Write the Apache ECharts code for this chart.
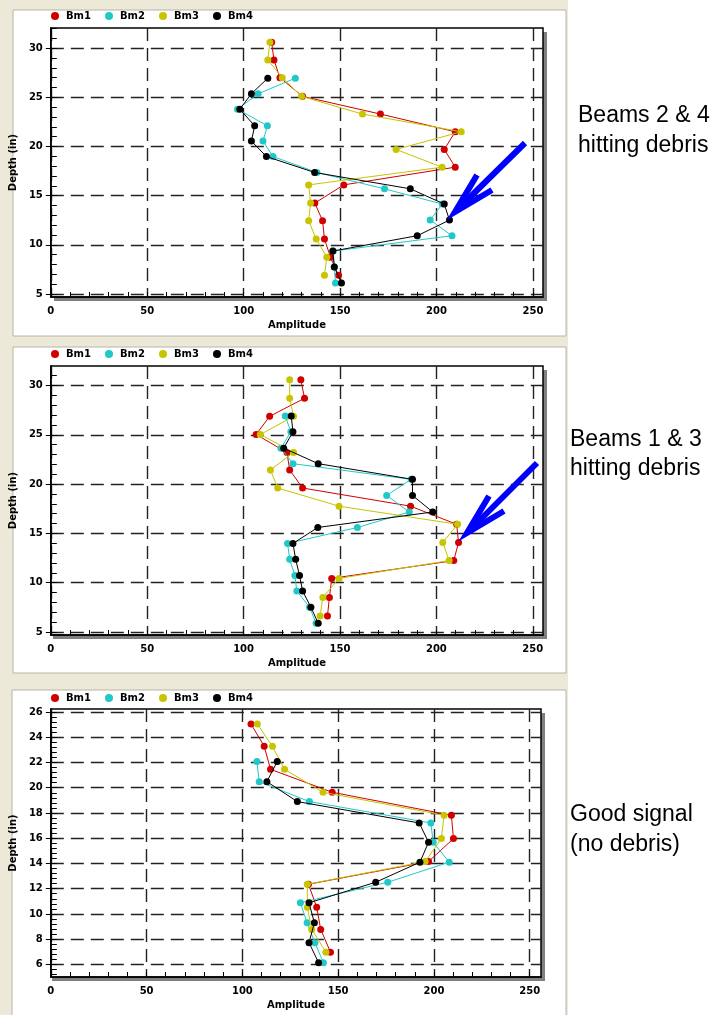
<!DOCTYPE html>
<html><head><meta charset="utf-8">
<script src="https://cdn.jsdelivr.net/npm/echarts@6/dist/echarts.min.js"></script>
<style>html,body{margin:0;padding:0;background:#fff}#c{width:726px;height:1015px}</style>
</head><body><div id="c"></div>
<script>
// ---------- data ----------
const seriesNames = ['Bm1', 'Bm2', 'Bm3', 'Bm4'];
const xTickLabels = [0, 50, 100, 150, 200, 250];
const yTickLabels12 = [5, 10, 15, 20, 25, 30];
const yTickLabels3 = [6, 8, 10, 12, 14, 16, 18, 20, 22, 24, 26];

// Panel 1 (Beams 2 & 4 hitting debris)
const p1DepthA = [30.6, 28.8, 27.0, 25.1, 23.3, 21.5, 19.7, 17.9, 16.1, 14.25, 12.45, 10.6, 8.75, 6.9];
const p1DepthB = [26.95, 25.36, 23.8, 22.1, 20.55, 18.98, 17.36, 15.7, 14.15, 12.52, 10.93, 9.37, 7.74, 6.12];
const p1Bm1 = [114.5, 115.7, 118.8, 130.5, 170.9, 209.7, 204, 209.7, 151.9, 136.9, 140.9, 141.9, 145, 149.2];
const p1Bm2 = [126.8, 107.5, 96.8, 112.3, 110, 115.2, 138, 173, 203, 196.7, 208, 146.5, 147, 147.6];
const p1Bm3 = [113.6, 112.5, 120, 130, 161.6, 212.8, 179, 202.9, 133.7, 134.7, 133.7, 137.6, 143.1, 141.9];
const p1Bm4 = [112.5, 104, 98, 105.7, 104, 111.8, 136.8, 186.4, 204, 206.7, 190, 146.2, 147, 150.7];

// Panel 2 (Beams 1 & 3 hitting debris)
const p2DepthA = [30.58, 28.7, 26.87, 25.03, 23.2, 21.43, 19.6, 17.76, 15.92, 14.08, 12.24, 10.44, 8.5, 6.63];
const p2DepthB = [26.9, 25.3, 23.64, 22.07, 20.48, 18.85, 17.17, 15.6, 13.98, 12.38, 10.74, 9.15, 7.52, 5.89];
const p2Bm1 = [129.7, 131.6, 113.5, 106.5, 122.5, 123.9, 130.6, 186.6, 210.5, 211.5, 209, 145.7, 144.5, 143.5];
const p2Bm2 = [121.6, 124.5, 119.4, 125.6, 186.9, 174.2, 185.9, 159, 122.8, 123.9, 126.6, 127.6, 134.2, 137.6];
const p2Bm3 = [123.9, 123.9, 125.9, 108.7, 125.9, 113.9, 117.7, 149.5, 211, 203.3, 206.6, 149.5, 141.1, 139.7];
const p2Bm4 = [124.7, 125.6, 120.8, 138.7, 187.6, 187.6, 198.1, 138.5, 125.6, 127, 129, 130.6, 134.9, 138.7];

// Panel 3 (Good signal)
const p3DepthA = [25.05, 23.28, 21.46, 19.64, 17.82, 15.97, 14.15, 12.35, 10.53, 8.77, 6.97];
const p3DepthB = [22.07, 20.48, 18.9, 17.21, 15.68, 14.1, 12.51, 10.88, 9.3, 7.72, 6.13];
const p3Bm1 = [104.5, 111.4, 114.7, 146.9, 209.1, 210.2, 197.2, 134.5, 138.8, 140.9, 146];
const p3Bm2 = [107.6, 108.8, 135, 198.4, 199.6, 208, 175.9, 130.3, 133.8, 137.9, 142.3];
const p3Bm3 = [107.8, 115.7, 122, 142.1, 205.3, 203.9, 195.4, 133.9, 133.9, 136.2, 143.6];
const p3Bm4 = [118.2, 112.8, 128.7, 192.3, 197.2, 192.7, 169.6, 134.8, 137.6, 134.8, 139.8];

const annotations = [['Beams 2 & 4', 'hitting debris'], ['Beams 1 & 3', 'hitting debris'], ['Good signal', '(no debris)']];

// ---------- layout / style ----------
const colors = ['#d00000', '#22c8c8', '#c8c400', '#000000'];
const FONT = 'DejaVu Sans';
const grids = [
  {left: 50, top: 28, width: 493, height: 269},
  {left: 49, top: 366, width: 494, height: 269},
  {left: 48, top: 709, width: 493, height: 268}
];
const xMax = [255.2, 255.3, 255.9];
const yRange = [[4.7, 32.05], [4.7, 31.97], [5, 26.24]];
const legendTop = [11, 349, 693];

function range(a, b, s) { const r = []; for (let v = a; v <= b + 1e-9; v += s) r.push(+v.toFixed(3)); return r; }
const minorX = range(0, 250, 10);
const minorY12 = range(5, 32, 1);
const minorY3 = range(5.2, 26, 0.4);

const panels = [
  {A: p1DepthA, B: p1DepthB, s: [p1Bm1, p1Bm2, p1Bm3, p1Bm4]},
  {A: p2DepthA, B: p2DepthB, s: [p2Bm1, p2Bm2, p2Bm3, p2Bm4]},
  {A: p3DepthA, B: p3DepthB, s: [p3Bm1, p3Bm2, p3Bm3, p3Bm4]}
];

const split = {show: true, lineStyle: {color: '#222', width: 1.4, type: [13, 7]}};
const lbl = {color: '#000', fontFamily: FONT, fontWeight: 'bold', fontSize: 10};
const xAxis = [], yAxis = [], series = [], legend = [];
grids.forEach((g, i) => {
  const yt = i < 2 ? yTickLabels12 : yTickLabels3;
  const ym = i < 2 ? minorY12 : minorY3;
  xAxis.push({
    type: 'value', gridIndex: i, min: 0, max: xMax[i], position: 'bottom',
    name: 'Amplitude', nameLocation: 'middle', nameGap: 23,
    nameTextStyle: {color: '#000', fontFamily: FONT, fontWeight: 'bold', fontSize: 10},
    axisLine: {show: true, lineStyle: {color: '#000', width: 1.5}},
    axisTick: {show: false, customValues: xTickLabels},
    axisLabel: Object.assign({customValues: xTickLabels, margin: 9}, lbl),
    splitLine: split
  });
  xAxis.push({
    type: 'value', gridIndex: i, min: 0, max: xMax[i], position: 'bottom',
    axisLine: {show: false}, axisLabel: {show: false}, splitLine: {show: false},
    axisTick: {show: true, inside: true, length: 5, customValues: minorX, lineStyle: {color: '#000', width: 1}}
  });
  yAxis.push({
    type: 'value', gridIndex: i, min: yRange[i][0], max: yRange[i][1], position: 'left',
    name: 'Depth (in)', nameLocation: 'middle', nameGap: 26,
    nameTextStyle: {color: '#000', fontFamily: FONT, fontWeight: 'bold', fontSize: 10},
    axisLine: {show: true, lineStyle: {color: '#000', width: 1.5}},
    axisTick: {show: true, inside: false, length: 5, customValues: yt, lineStyle: {color: '#000', width: 1}},
    axisLabel: Object.assign({customValues: yt, margin: 8}, lbl),
    splitLine: split
  });
  yAxis.push({
    type: 'value', gridIndex: i, min: yRange[i][0], max: yRange[i][1], position: 'left',
    axisLine: {show: false}, axisLabel: {show: false}, splitLine: {show: false},
    axisTick: {show: true, inside: true, length: 6, customValues: ym, lineStyle: {color: '#000', width: 1}}
  });
  const p = panels[i];
  p.s.forEach((vals, k) => {
    const depths = (k === 0 || k === 2) ? p.A : p.B;
    series.push({
      name: seriesNames[k], type: 'line', xAxisIndex: 2 * i, yAxisIndex: 2 * i,
      data: vals.map((v, j) => [v, depths[j]]),
      symbol: 'circle', symbolSize: 7, showSymbol: true,
      itemStyle: {color: colors[k]}, lineStyle: {color: colors[k], width: 1},
      emphasis: {disabled: true}, z: 3 + k
    });
  });
  legend.push({
    data: seriesNames, left: 51, top: legendTop[i], icon: 'circle',
    itemWidth: 12, itemHeight: 8, itemGap: 14, padding: 0,
    textStyle: {color: '#000', fontFamily: FONT, fontWeight: 'bold', fontSize: 10}
  });
});

const beige = '#ece9d8';
const graphic = [
  {type: 'rect', shape: {x: 0, y: 0, width: 568, height: 1015}, style: {fill: beige}, z: -20},
  {type: 'rect', shape: {x: 13, y: 10, width: 553, height: 326}, style: {fill: '#fff', stroke: '#b8b4a4', lineWidth: 1}, z: -15},
  {type: 'rect', shape: {x: 13, y: 347, width: 553, height: 326}, style: {fill: '#fff', stroke: '#b8b4a4', lineWidth: 1}, z: -15},
  {type: 'rect', shape: {x: 12, y: 690, width: 554, height: 330}, style: {fill: '#fff', stroke: '#b8b4a4', lineWidth: 1}, z: -15}
];
grids.forEach(g => {
  graphic.push({type: 'rect', shape: {x: g.left + 4, y: g.top + 4, width: g.width, height: g.height}, style: {fill: '#808080'}, z: -10});
  graphic.push({type: 'rect', shape: {x: g.left, y: g.top, width: g.width, height: g.height}, style: {fill: '#fff'}, z: -9});
});
const textPos = [[578, 116, 146], [570, 440, 469], [570, 815, 845]];
annotations.forEach((a, i) => {
  a.forEach((t, j) => {
    graphic.push({type: 'text', x: textPos[i][0], y: textPos[i][1 + j], z: 100,
      style: {text: t, fill: '#000', font: '23px "Liberation Sans", Arial, sans-serif', textVerticalAlign: 'middle'}});
  });
});
// arrows
const arrows = [{tip: [455, 212], tail: [525, 143]}, {tip: [467, 533], tail: [537, 463]}];
arrows.forEach(a => {
  const [tx, ty] = a.tip;
  graphic.push({type: 'polyline', z: 100, shape: {points: [[tx + 3, ty - 3], a.tail]}, style: {stroke: '#0000ff', lineWidth: 6}});
  graphic.push({type: 'polyline', z: 100, shape: {points: [[tx + 22, ty - 37], [tx, ty], [tx + 37, ty - 22]]}, style: {stroke: '#0000ff', lineWidth: 6, lineJoin: 'miter', fill: null}});
});

const chart = echarts.init(document.getElementById('c'), null, {renderer: 'canvas'});
chart.setOption({
  animation: false,
  backgroundColor: '#fff',
  grid: grids.map(g => Object.assign({show: true, borderColor: '#000', borderWidth: 1.5, backgroundColor: 'transparent'}, g)),
  legend, xAxis, yAxis, series, graphic
});
</script></body></html>
